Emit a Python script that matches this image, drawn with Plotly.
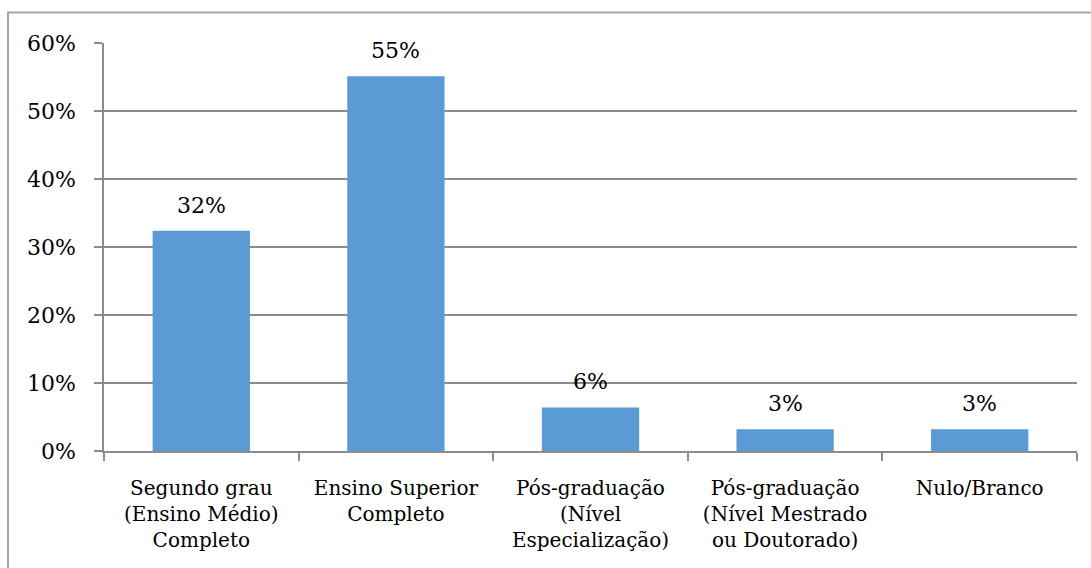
import plotly.graph_objects as go

# Escolaridade dos respondentes
categorias = [
    "Segundo grau<br>(Ensino Médio)<br>Completo",
    "Ensino Superior<br>Completo",
    "Pós-graduação<br>(Nível<br>Especialização)",
    "Pós-graduação<br>(Nível Mestrado<br>ou Doutorado)",
    "Nulo/Branco",
]
percentuais = [0.324, 0.551, 0.064, 0.032, 0.032]
ticks_y = [0, 0.1, 0.2, 0.3, 0.4, 0.5, 0.6]
rotulos_y = ["0%", "10%", "20%", "30%", "40%", "50%", "60%"]

FONTE = "DejaVu Serif"
CINZA = "#8c8c8c"

fig = go.Figure(
    go.Bar(
        x=categorias,
        y=percentuais,
        marker=dict(color="#5B9BD5", line=dict(width=0)),
        hoverinfo="skip",
    )
)

# Rótulos de valor acima das barras
for cat, val in zip(categorias, percentuais):
    fig.add_annotation(
        x=cat, y=val, text=f"{val:.0%}", showarrow=False,
        yanchor="bottom", yshift=11,
        font=dict(family=FONTE, size=22, color="black"),
    )

# Moldura do gráfico
fig.add_shape(
    type="rect", xref="paper", yref="paper",
    x0=-0.0987, x1=1.05, y0=-0.35, y1=1.0747,
    line=dict(color="#a6a6a6", width=2),
)

fig.update_layout(
    width=1091, height=568,
    margin=dict(l=104, r=14, t=43, b=117, pad=0),
    paper_bgcolor="white", plot_bgcolor="white",
    bargap=0.5,
    showlegend=False,
    font=dict(family=FONTE, size=20, color="black"),
)
fig.update_xaxes(
    type="category", automargin=False, tickangle=0,
    showline=True, linecolor=CINZA, linewidth=1.5,
    ticks="outside", tickson="boundaries", ticklen=8, tickcolor=CINZA, tickwidth=1.5,
    showgrid=False,
    tickfont=dict(family=FONTE, size=20, color="black"),
    ticklabelstandoff=18,
)
fig.update_yaxes(
    range=[0, 0.6], tickvals=ticks_y, ticktext=rotulos_y, automargin=False,
    showline=True, linecolor=CINZA, linewidth=1.5,
    ticks="outside", ticklen=8, tickcolor=CINZA, tickwidth=1.5,
    showgrid=True, gridcolor=CINZA, gridwidth=1.5,
    zeroline=False,
    tickfont=dict(family=FONTE, size=22, color="black"),
    ticklabelstandoff=14,
)

fig.write_html("out.html")
